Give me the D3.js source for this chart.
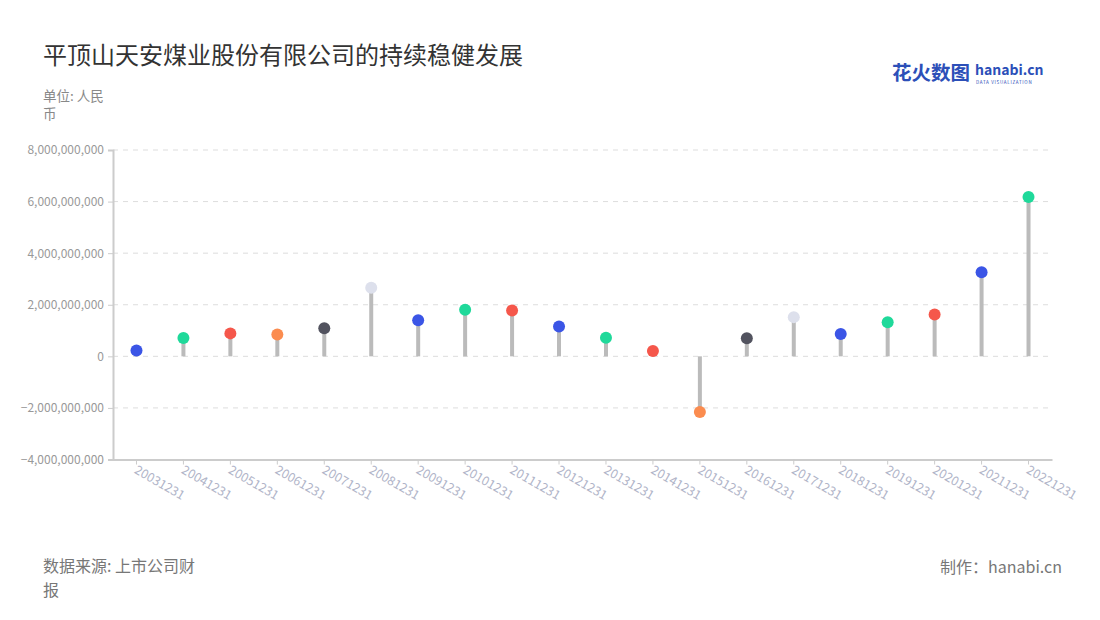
<!DOCTYPE html>
<html><head><meta charset="utf-8">
<script src="https://cdn.jsdelivr.net/npm/d3@7"></script>
<style>
body{margin:0;background:#fff;}
svg text{font-family:"Noto Sans CJK SC","Noto Sans",sans-serif;}
</style></head>
<body><svg id="c" width="1100" height="620"></svg>
<script>
const categories = ["20031231","20041231","20051231","20061231","20071231","20081231","20091231","20101231","20111231","20121231","20131231","20141231","20151231","20161231","20171231","20181231","20191231","20201231","20211231","20221231"];
const values = [0.23e9,0.71e9,0.89e9,0.85e9,1.09e9,2.66e9,1.40e9,1.81e9,1.78e9,1.16e9,0.72e9,0.21e9,-2.16e9,0.70e9,1.52e9,0.87e9,1.32e9,1.62e9,3.26e9,6.18e9];
const dotColors = ["#3b55e6","#1fd99a","#f5574b","#fb8c4f","#52535f","#dde0ec","#3b55e6","#1fd99a","#f5574b","#3b55e6","#1fd99a","#f5574b","#fb8c4f","#52535f","#dde0ec","#3b55e6","#1fd99a","#f5574b","#3b55e6","#1fd99a"];
const yTicks = [-4e9,-2e9,0,2e9,4e9,6e9,8e9];

const svg = d3.select("#c");
const L=113, R=1052, T=150, B=459.5;
const x = d3.scaleBand().domain(categories).range([L,R]);
const y = d3.scaleLinear().domain([-4e9,8e9]).range([B,T]);

// title
svg.append("text").attr("x",43).attr("y",64).attr("font-size",24).attr("fill","#333").text("平顶山天安煤业股份有限公司的持续稳健发展");
svg.append("text").attr("x",43).attr("y",101).attr("font-size",13.5).attr("fill","#888").text("单位: 人民");
svg.append("text").attr("x",43).attr("y",119).attr("font-size",13.5).attr("fill","#888").text("币");

// logo
svg.append("text").attr("x",892).attr("y",80).attr("font-size",19.5).attr("font-weight","bold").attr("fill","#2c4fb8").text("花火数图");
svg.append("text").attr("x",975).attr("y",75).attr("font-size",14).attr("font-weight","bold").attr("fill","#2c4fb8").text("hanabi.cn");
svg.append("text").attr("x",976).attr("y",84).attr("font-size",4.5).attr("fill","#2c4fb8").attr("letter-spacing",0.7).text("DATA VISUALIZATION");

// grid
svg.append("g").selectAll("line").data(yTicks).join("line")
  .attr("x1",L).attr("x2",R).attr("y1",d=>y(d)).attr("y2",d=>y(d))
  .attr("stroke","#ddd").attr("stroke-dasharray","5,5").attr("stroke-width",1);

// y axis
const ya = svg.append("g").attr("transform",`translate(${L},0)`)
  .call(d3.axisLeft(y).tickValues(yTicks).tickSize(5).tickPadding(4).tickFormat(d3.format(",")));
ya.select(".domain").attr("stroke","#ccc").attr("stroke-width",2);
ya.selectAll(".tick line").attr("stroke","#ccc");
ya.selectAll(".tick text").attr("fill","#999").attr("font-size",12).attr("font-family","'Noto Sans CJK SC','Noto Sans',sans-serif");

// x axis
const xa = svg.append("g").attr("transform",`translate(0,${B})`)
  .call(d3.axisBottom(x).tickSize(5).tickSizeOuter(0));
xa.select(".domain").attr("stroke","#ccc").attr("stroke-width",2);
xa.selectAll(".tick line").attr("stroke","#ccc");
xa.selectAll(".tick text").attr("fill","#b0b4c8").attr("font-size",12.5)
  .attr("font-family","'Noto Sans CJK SC','Noto Sans',sans-serif")
  .attr("text-anchor","start").attr("dy",0).attr("y",0)
  .attr("transform","translate(-3,13) rotate(30)");

// stems
const cx = d=>x(d)+x.bandwidth()/2;
svg.append("g").selectAll("line").data(categories).join("line")
  .attr("x1",cx).attr("x2",cx).attr("y1",y(0)).attr("y2",(d,i)=>y(values[i]))
  .attr("stroke","#bbb").attr("stroke-width",4);
// dots
svg.append("g").selectAll("circle").data(categories).join("circle")
  .attr("cx",cx).attr("cy",(d,i)=>y(values[i])).attr("r",6)
  .attr("fill",(d,i)=>dotColors[i]);

// footer
svg.append("text").attr("x",43).attr("y",572).attr("font-size",16).attr("fill","#777").text("数据来源: 上市公司财");
svg.append("text").attr("x",43).attr("y",596).attr("font-size",16).attr("fill","#777").text("报");
svg.append("text").attr("x",1062).attr("y",573).attr("font-size",16).attr("fill","#777").attr("text-anchor","end").text("制作：hanabi.cn");
</script></body></html>
